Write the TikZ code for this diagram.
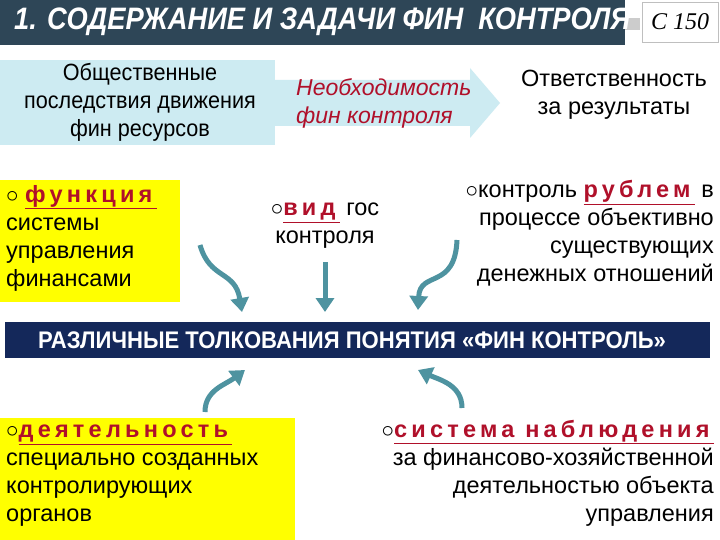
\documentclass[tikz,border=0pt]{standalone}
\usepackage{fontspec}
\setmainfont{Liberation Sans}
\newfontfamily\serifc{Liberation Serif}
\usetikzlibrary{arrows.meta}
\definecolor{titlebg}{HTML}{2E4657}
\definecolor{navy}{HTML}{14285A}
\definecolor{lblue}{HTML}{CDEBF2}
\definecolor{teal}{HTML}{4E93A0}
\definecolor{dred}{HTML}{B0102A}
\definecolor{ylw}{HTML}{FFFF00}
\tikzset{
 txt/.style={font=\fontsize{23.5}{28}\selectfont,align=center,inner sep=0pt},
 arr/.style={teal,line width=5pt,-{Triangle[width=18pt,length=14pt]}}
}
\newcommand{\kwd}[1]{\textcolor{dred}{\underline{\textbf{\addfontfeature{LetterSpace=18}#1}}}}
\begin{document}
\begin{tikzpicture}[x=1pt,y=-1pt]
\useasboundingbox (0,0) rectangle (720,540);
\fill[white] (0,0) rectangle (720,540);
% title
\fill[titlebg] (0,0) rectangle (625,45);
\fill[gray!40] (625,18) rectangle (640,30);
\node[txt,font=\fontsize{31}{32}\selectfont\bfseries\itshape,text=white,anchor=west,xscale=0.88] (title) at (14,22) {1. СОДЕРЖАНИЕ И ЗАДАЧИ ФИН~~КОНТРОЛЯ};
\node[draw=gray!50,fill=white,minimum width=76pt,minimum height=40pt,font=\serifc\itshape\fontsize{24}{26}\selectfont] (page) at (680,22) {С 150};
% top row
\fill[lblue] (0,60) rectangle (275,145);
\fill[lblue] (275,80) -- (470,80) -- (470,68) -- (500,103) -- (470,138) -- (470,126) -- (275,126) -- cycle;
\node[txt,xscale=0.92] (soc) at (140,102) {Общественные\\последствия движения\\фин ресурсов};
\node[txt,text=dred,font=\itshape\fontsize{23}{28}\selectfont,align=left,anchor=west] (need) at (296,103) {Необходимость\\фин контроля};
\node[txt] (resp) at (614,95) {Ответственность\\за результаты};
% yellow box 1
\fill[ylw] (0,180) rectangle (180,302);
\node[txt,align=left,anchor=north west] (func) at (6,185) {$\circ$ \kwd{функция}\\системы\\управления\\финансами};
\node[txt,align=center,anchor=north] (vid) at (325,203) {$\circ$\kwd{вид} гос\\контроля};
\node[txt,align=right,anchor=north east] (rub) at (714,180) {$\circ$контроль \kwd{рублем} в\\процессе объективно\\существующих\\денежных отношений};
% bar
\fill[navy] (5,322) rectangle (710,358);
\node[txt,text=white,font=\fontsize{24}{26}\selectfont\bfseries,xscale=0.92] (bar) at (352,340) {РАЗЛИЧНЫЕ ТОЛКОВАНИЯ ПОНЯТИЯ «ФИН КОНТРОЛЬ»};
% arrows down
\coordinate (a1) at (200,245); \coordinate (b1) at (242,312);
\draw[arr] (a1) .. controls (210,280) and (235,270) .. (b1);
\coordinate (a2) at (325,262); \coordinate (b2) at (325,312);
\draw[arr] (a2) -- (b2);
\coordinate (a3) at (457,240); \coordinate (b3) at (418,310);
\draw[arr] (a3) .. controls (455,290) and (420,270) .. (b3);
% arrows up
\coordinate (a4) at (205,412); \coordinate (b4) at (245,370);
\draw[arr] (a4) .. controls (205,390) and (225,385) .. (b4);
\coordinate (a5) at (462,408); \coordinate (b5) at (418,370);
\draw[arr] (a5) .. controls (462,385) and (440,380) .. (b5);
% yellow box 2
\fill[ylw] (0,418) rectangle (295,540);
\node[txt,align=left,anchor=north west] (act) at (6,425) {$\circ$\kwd{деятельность}\\специально созданных\\контролирующих\\органов};
\node[txt,align=right,anchor=north east] (obs) at (714,420) {$\circ$\kwd{система наблюдения}\\за финансово-хозяйственной\\деятельностью объекта\\управления};
\end{tikzpicture}
\end{document}
